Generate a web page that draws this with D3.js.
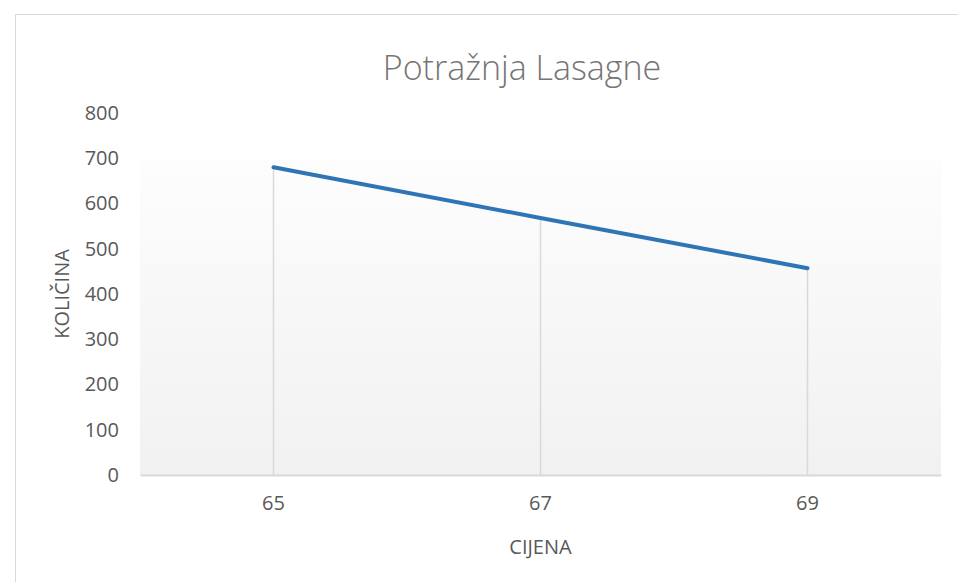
<!DOCTYPE html>
<html>
<head>
<meta charset="utf-8">
<script src="https://cdn.jsdelivr.net/npm/d3@7"></script>
<style>
  body { margin: 0; background: #fff; }
  svg text { font-family: "Open Sans", "Noto Sans", sans-serif; }
</style>
</head>
<body>
<svg id="chart"></svg>
<script>
// data
const prices = ['65', '67', '69'];
const quantities = [680, 568, 457];
const yTicks = [0, 100, 200, 300, 400, 500, 600, 700, 800];

const width = 958, height = 582;
const margin = { top: 113, right: 17, bottom: 107, left: 140 };
const fillTop = 160; // plot-area fill starts a bit below the top tick

const svg = d3.select('#chart')
    .attr('width', width)
    .attr('height', height);

// chart frame
svg.append('rect')
    .attr('x', 15.5).attr('y', 14.5)
    .attr('width', width + 10).attr('height', height + 10)
    .attr('fill', '#fff')
    .attr('stroke', '#d9d9d9');

const x = d3.scaleBand()
    .domain(prices)
    .range([margin.left, width - margin.right]);

const y = d3.scaleLinear()
    .domain([0, 800])
    .range([height - margin.bottom, margin.top]);

const defs = svg.append('defs');
const grad = defs.append('linearGradient')
    .attr('id', 'plotFill')
    .attr('x1', 0).attr('y1', 0).attr('x2', 0).attr('y2', 1);
grad.append('stop').attr('offset', '0%').attr('stop-color', '#fdfdfd');
grad.append('stop').attr('offset', '100%').attr('stop-color', '#f1f1f1');

svg.append('rect')
    .attr('x', margin.left)
    .attr('y', fillTop)
    .attr('width', width - margin.right - margin.left)
    .attr('height', y(0) - fillTop)
    .attr('fill', 'url(#plotFill)');

// drop lines
svg.append('g')
    .selectAll('line')
    .data(quantities)
    .enter().append('line')
    .attr('x1', (d, i) => x(prices[i]) + x.bandwidth() / 2)
    .attr('x2', (d, i) => x(prices[i]) + x.bandwidth() / 2)
    .attr('y1', d => y(d))
    .attr('y2', y(0))
    .attr('stroke', '#d9d9d9')
    .attr('stroke-width', 1.5);

// x axis
const xAxis = svg.append('g')
    .attr('transform', `translate(0,${y(0)})`)
    .call(d3.axisBottom(x).tickSize(0).tickPadding(21));
xAxis.select('.domain').attr('stroke', '#d9d9d9').attr('stroke-width', 2);
xAxis.selectAll('text')
    .attr('font-size', 20)
    .attr('fill', '#595959');

// y axis (labels only)
const yAxis = svg.append('g')
    .attr('transform', `translate(${margin.left},0)`)
    .call(d3.axisLeft(y).tickValues(yTicks).tickSize(0).tickPadding(21));
yAxis.select('.domain').remove();
yAxis.selectAll('text')
    .attr('font-size', 20)
    .attr('fill', '#595959');

// series line
const line = d3.line()
    .x((d, i) => x(prices[i]) + x.bandwidth() / 2)
    .y(d => y(d));

svg.append('path')
    .datum(quantities)
    .attr('d', line)
    .attr('fill', 'none')
    .attr('stroke', '#2e75b6')
    .attr('stroke-width', 4)
    .attr('stroke-linecap', 'round');

// titles
svg.append('text')
    .attr('x', 522)
    .attr('y', 80)
    .attr('text-anchor', 'middle')
    .attr('font-size', 34)
    .attr('font-weight', 300)
    .attr('fill', '#757575')
    .text('Potražnja Lasagne');

svg.append('text')
    .attr('transform', `translate(69,${(y(0) + y(800)) / 2}) rotate(-90)`)
    .attr('text-anchor', 'middle')
    .attr('font-size', 20)
    .attr('fill', '#595959')
    .text('KOLIČINA');

svg.append('text')
    .attr('x', (margin.left + width - margin.right) / 2)
    .attr('y', 554)
    .attr('text-anchor', 'middle')
    .attr('font-size', 20)
    .attr('fill', '#595959')
    .text('CIJENA');
</script>
</body>
</html>
